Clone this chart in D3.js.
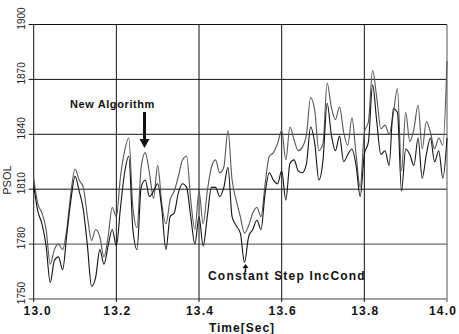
<!DOCTYPE html>
<html>
<head>
<meta charset="utf-8">
<script src="https://cdn.jsdelivr.net/npm/d3@7"></script>
<style>
  body { margin: 0; background: #fff; }
  svg { display: block; font-family: "Liberation Sans", Arial, sans-serif; }
</style>
</head>
<body>
<div id="chart"></div>
<script>
// sample times (s)
const times = [
  13.00, 13.01, 13.02, 13.03, 13.04, 13.05, 13.06, 13.07, 13.08, 13.09,
  13.10, 13.11, 13.12, 13.13, 13.14, 13.15, 13.16, 13.17, 13.18, 13.19,
  13.20, 13.21, 13.22, 13.23, 13.24, 13.25, 13.26, 13.27, 13.28, 13.29,
  13.30, 13.31, 13.32, 13.33, 13.34, 13.35, 13.36, 13.37, 13.38, 13.39,
  13.40, 13.41, 13.42, 13.43, 13.44, 13.45, 13.46, 13.47, 13.48, 13.49,
  13.50, 13.51, 13.52, 13.53, 13.54, 13.55, 13.56, 13.57, 13.58, 13.59,
  13.60, 13.61, 13.62, 13.63, 13.64, 13.65, 13.66, 13.67, 13.68, 13.69,
  13.70, 13.71, 13.72, 13.73, 13.74, 13.75, 13.76, 13.77, 13.78, 13.79,
  13.80, 13.81, 13.82, 13.83, 13.84, 13.85, 13.86, 13.87, 13.88, 13.89,
  13.90, 13.91, 13.92, 13.93, 13.94, 13.95, 13.96, 13.97, 13.98, 13.99,
  14.00
];

// PSOL, new algorithm
const newAlgorithm = [
  1816, 1802, 1797, 1788, 1769, 1777, 1780, 1777, 1788, 1808,
  1821, 1815, 1811, 1795, 1782, 1788, 1784, 1773, 1784, 1800,
  1795, 1817, 1831, 1838, 1800, 1789, 1822, 1830, 1819, 1805,
  1823, 1802, 1791, 1804, 1809, 1817, 1826, 1828, 1804, 1788,
  1809, 1791, 1809, 1822, 1826, 1819, 1822, 1842, 1815, 1804,
  1795, 1786, 1790, 1797, 1800, 1795, 1813, 1828, 1830, 1835,
  1842, 1826, 1844, 1837, 1831, 1833, 1840, 1860, 1853, 1831,
  1835, 1868, 1855, 1848, 1855, 1841, 1834, 1849, 1829, 1811,
  1841, 1847, 1875, 1860, 1843, 1845, 1840, 1851, 1865, 1820,
  1852, 1836, 1843, 1856, 1832, 1847, 1841, 1832, 1838, 1834,
  1880
];

// PSOL, constant step IncCond
const constantStep = [
  1812, 1798, 1791, 1779, 1759, 1771, 1773, 1766, 1785, 1804,
  1817, 1809, 1799, 1779, 1757, 1762, 1777, 1769, 1779, 1788,
  1779, 1800, 1819, 1828, 1788, 1777, 1811, 1815, 1806, 1809,
  1813, 1799, 1777, 1795, 1797, 1808, 1813, 1811, 1795, 1780,
  1795, 1779, 1795, 1811, 1811, 1806, 1811, 1822, 1795, 1790,
  1786, 1770, 1784, 1788, 1793, 1788, 1808, 1819, 1815, 1813,
  1820, 1804, 1824, 1826, 1820, 1819, 1824, 1844, 1835, 1815,
  1826, 1857, 1840, 1831, 1839, 1825, 1829, 1832, 1823, 1806,
  1829, 1836, 1867, 1847, 1829, 1831, 1823, 1854, 1852, 1809,
  1832, 1829, 1823, 1838, 1816, 1829, 1838, 1825, 1831, 1816,
  1838
];

const xTicks = [13.0, 13.2, 13.4, 13.6, 13.8, 14.0];
const yTicks = [1750, 1780, 1810, 1840, 1870, 1900];

const width = 459, height = 334;
const svg = d3.select("#chart").append("svg")
    .attr("width", width)
    .attr("height", height);

const x = d3.scaleLinear([13.0, 14.0], [33.7, 447]);
const y = d3.scaleLinear([1750, 1900], [299, 24.5]);

// grid
const grid = svg.append("g").attr("stroke", "#111").attr("stroke-width", 1);
grid.selectAll(".hgrid")
  .data(yTicks)
  .join("line")
    .attr("x1", x(13.0) - 5)
    .attr("x2", x(14.0))
    .attr("y1", d => y(d))
    .attr("y2", d => y(d))
    .attr("stroke", d => (d === 1750 || d === 1780) ? "#444" : "#111");
grid.selectAll(".vgrid")
  .data(xTicks)
  .join("line")
    .attr("x1", d => x(d))
    .attr("x2", d => x(d))
    .attr("y1", y(1900))
    .attr("y2", y(1750) + 3)
    .attr("stroke", d => d === 14.0 ? "#555" : "#111");

// y labels, rotated
svg.append("g")
  .selectAll("text")
  .data(yTicks)
  .join("text")
    .attr("transform", d => `translate(25,${y(d) - 6}) rotate(-90)`)
    .attr("text-anchor", "middle")
    .attr("font-size", 10)
    .attr("fill", "#222")
    .text(d => d);

svg.append("text")
    .attr("transform", `translate(11,${y(1815)}) rotate(-90)`)
    .attr("text-anchor", "middle")
    .attr("font-size", 11)
    .attr("fill", "#222")
    .text("PSOL");

// x labels (last one pulled in so it stays on the page)
svg.append("g")
  .selectAll("text")
  .data(xTicks)
  .join("text")
    .attr("x", d => x(d) + (d === 13.0 ? 4 : d === 14.0 ? -4 : 1))
    .attr("y", 315)
    .attr("text-anchor", "middle")
    .attr("font-size", 12)
    .attr("font-weight", "bold")
    .attr("letter-spacing", 1.2)
    .attr("fill", "#111")
    .text(d => d.toFixed(1));

svg.append("text")
    .attr("x", 242)
    .attr("y", 332)
    .attr("text-anchor", "middle")
    .attr("font-size", 12)
    .attr("font-weight", "bold")
    .attr("letter-spacing", 1)
    .attr("fill", "#111")
    .text("Time[Sec]");

// series
const line = d3.line()
    .x((d, i) => x(times[i]))
    .y(d => y(d))
    .curve(d3.curveMonotoneX);

svg.append("path")
    .datum(newAlgorithm)
    .attr("fill", "none")
    .attr("stroke", "#555")
    .attr("stroke-width", 1.1)
    .attr("d", line);

svg.append("path")
    .datum(constantStep)
    .attr("fill", "none")
    .attr("stroke", "#111")
    .attr("stroke-width", 1.1)
    .attr("d", line);

// annotations
svg.append("text")
    .attr("x", 70)
    .attr("y", 108)
    .attr("font-size", 11)
    .attr("font-weight", "bold")
    .attr("letter-spacing", 0.6)
    .attr("fill", "#111")
    .text("New Algorithm");

svg.append("line")
    .attr("x1", 144.5).attr("x2", 144.5)
    .attr("y1", 112).attr("y2", 140)
    .attr("stroke", "#111")
    .attr("stroke-width", 3);
svg.append("path")
    .attr("d", "M139.5,139 L149.5,139 L144.5,148 Z")
    .attr("fill", "#111");

svg.append("text")
    .attr("x", 208)
    .attr("y", 280)
    .attr("font-size", 12)
    .attr("font-weight", "bold")
    .attr("letter-spacing", 1.2)
    .attr("fill", "#111")
    .text("Constant Step IncCond");

svg.append("line")
    .attr("x1", 245.5).attr("x2", 245.5)
    .attr("y1", 267).attr("y2", 272)
    .attr("stroke", "#111")
    .attr("stroke-width", 1.5);
svg.append("path")
    .attr("d", "M242.5,268 L248.5,268 L245.5,264 Z")
    .attr("fill", "#111");
</script>
</body>
</html>
